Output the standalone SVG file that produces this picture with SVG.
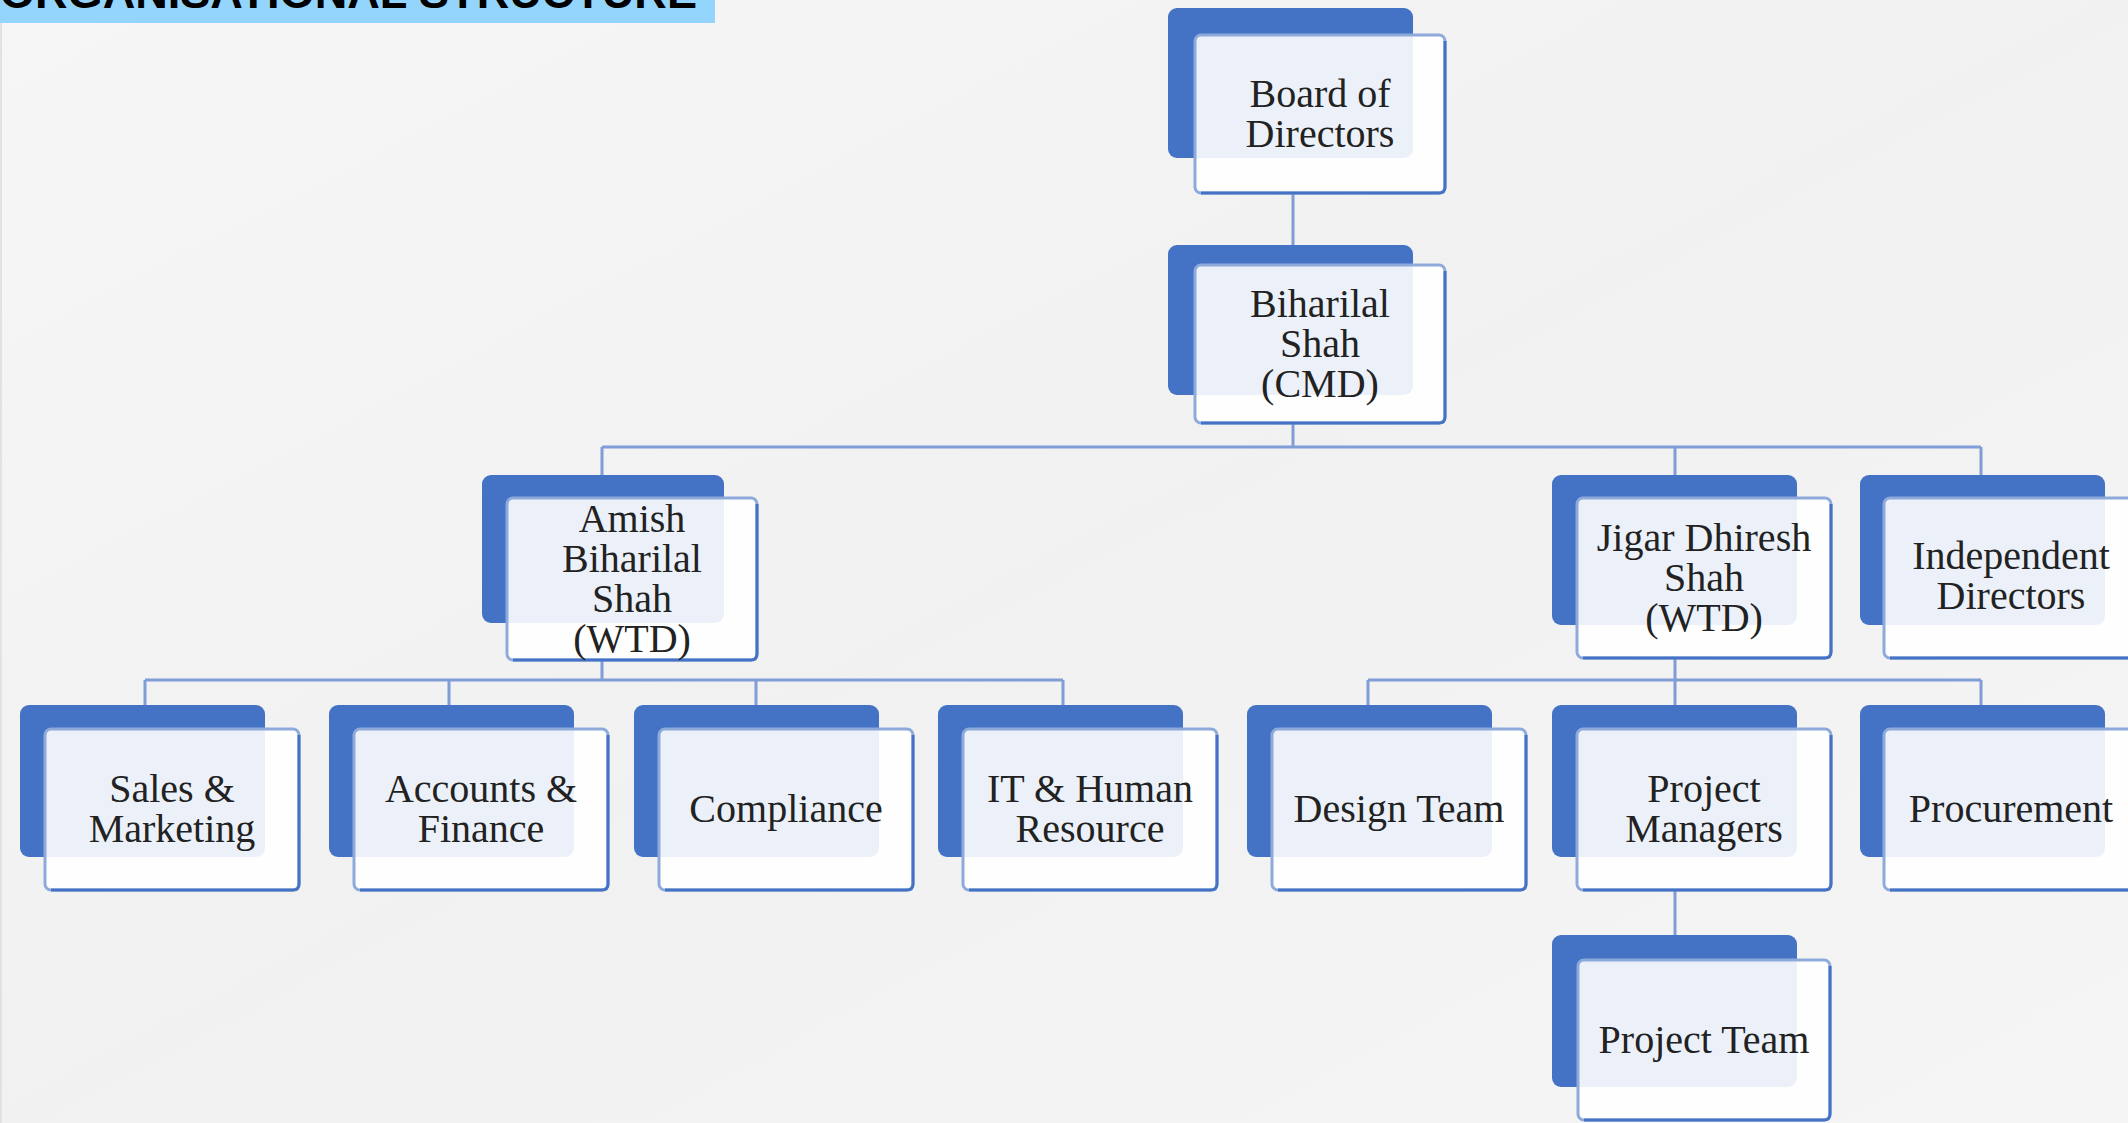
<svg xmlns="http://www.w3.org/2000/svg" width="2128" height="1123" viewBox="0 0 2128 1123">
<style>
.back{fill:#4472c4}
.front{fill:#ffffff;fill-opacity:0.9;stroke:#8eaadb;stroke-width:3}
.edge{fill:none;stroke:#4472c4;stroke-width:3}
.t{font-family:"Liberation Serif","Times New Roman",serif;font-size:40px;fill:#222222;text-anchor:middle}
.conn{fill:none;stroke:#7f9dd6;stroke-width:3}
.title{font-family:"Liberation Sans",Arial,sans-serif;font-weight:bold;font-size:45px;fill:#000000}
</style>
<defs>
<linearGradient id="bg" x1="0" y1="0" x2="1" y2="1">
<stop offset="0" stop-color="#f6f6f6"/>
<stop offset="0.5" stop-color="#f1f1f1"/>
<stop offset="1" stop-color="#f5f5f5"/>
</linearGradient>
</defs>
<rect x="0" y="0" width="2128" height="1123" fill="url(#bg)"/>
<rect x="0" y="23" width="2" height="1100" fill="#e2e2e2"/>
<g id="title">
<rect x="0" y="0" width="715" height="23" fill="#94d5fe"/>
<text class="title" x="0" y="8" textLength="697" lengthAdjust="spacingAndGlyphs">ORGANISATIONAL STRUCTURE</text>
</g>
<g id="connectors">
<path class="conn" d="M1293 193V245"/>
<path class="conn" d="M1293 423V447M602 447H1981M602 447V475M1675 447V475M1981 447V475"/>
<path class="conn" d="M602 660V680M145 680H1063M145 680V705M449 680V705M756 680V705M1063 680V705"/>
<path class="conn" d="M1675 658V680M1368 680H1981M1368 680V705M1675 680V705M1981 680V705"/>
<path class="conn" d="M1675 890V935"/>
</g>
<g id="board">
<rect class="back" x="1168" y="8" width="245" height="150" rx="9"/>
<rect class="front" x="1195" y="35" width="250" height="158" rx="6"/>
<path class="edge" d="M1445 41V187Q1445 193 1439 193H1201"/>
<text class="t" x="1320" y="107">Board of<tspan x="1320" dy="40">Directors</tspan></text>
</g>
<g id="cmd">
<rect class="back" x="1168" y="245" width="245" height="150" rx="9"/>
<rect class="front" x="1195" y="265" width="250" height="158" rx="6"/>
<path class="edge" d="M1445 271V417Q1445 423 1439 423H1201"/>
<text class="t" x="1320" y="317">Biharilal<tspan x="1320" dy="40">Shah</tspan><tspan x="1320" dy="40">(CMD)</tspan></text>
</g>
<g id="amish">
<rect class="back" x="482" y="475" width="242" height="148" rx="9"/>
<rect class="front" x="507" y="498" width="250" height="162" rx="6"/>
<path class="edge" d="M757 504V654Q757 660 751 660H513"/>
<text class="t" x="632" y="532">Amish<tspan x="632" dy="40">Biharilal</tspan><tspan x="632" dy="40">Shah</tspan><tspan x="632" dy="40">(WTD)</tspan></text>
</g>
<g id="jigar">
<rect class="back" x="1552" y="475" width="245" height="150" rx="9"/>
<rect class="front" x="1577" y="498" width="254" height="160" rx="6"/>
<path class="edge" d="M1831 504V652Q1831 658 1825 658H1583"/>
<text class="t" x="1704" y="551">Jigar Dhiresh<tspan x="1704" dy="40">Shah</tspan><tspan x="1704" dy="40">(WTD)</tspan></text>
</g>
<g id="independent">
<rect class="back" x="1860" y="475" width="245" height="150" rx="9"/>
<rect class="front" x="1884" y="498" width="254" height="160" rx="6"/>
<path class="edge" d="M2138 504V652Q2138 658 2132 658H1890"/>
<text class="t" x="2011" y="569">Independent<tspan x="2011" dy="40">Directors</tspan></text>
</g>
<g id="sales">
<rect class="back" x="20" y="705" width="245" height="152" rx="9"/>
<rect class="front" x="45" y="729" width="254" height="161" rx="6"/>
<path class="edge" d="M299 735V884Q299 890 293 890H51"/>
<text class="t" x="172" y="802">Sales &amp;<tspan x="172" dy="40">Marketing</tspan></text>
</g>
<g id="accounts">
<rect class="back" x="329" y="705" width="245" height="152" rx="9"/>
<rect class="front" x="354" y="729" width="254" height="161" rx="6"/>
<path class="edge" d="M608 735V884Q608 890 602 890H360"/>
<text class="t" x="481" y="802">Accounts &amp;<tspan x="481" dy="40">Finance</tspan></text>
</g>
<g id="compliance">
<rect class="back" x="634" y="705" width="245" height="152" rx="9"/>
<rect class="front" x="659" y="729" width="254" height="161" rx="6"/>
<path class="edge" d="M913 735V884Q913 890 907 890H665"/>
<text class="t" x="786" y="822">Compliance</text>
</g>
<g id="it-hr">
<rect class="back" x="938" y="705" width="245" height="152" rx="9"/>
<rect class="front" x="963" y="729" width="254" height="161" rx="6"/>
<path class="edge" d="M1217 735V884Q1217 890 1211 890H969"/>
<text class="t" x="1090" y="802">IT &amp; Human<tspan x="1090" dy="40">Resource</tspan></text>
</g>
<g id="design">
<rect class="back" x="1247" y="705" width="245" height="152" rx="9"/>
<rect class="front" x="1272" y="729" width="254" height="161" rx="6"/>
<path class="edge" d="M1526 735V884Q1526 890 1520 890H1278"/>
<text class="t" x="1399" y="822">Design Team</text>
</g>
<g id="project-managers">
<rect class="back" x="1552" y="705" width="245" height="152" rx="9"/>
<rect class="front" x="1577" y="729" width="254" height="161" rx="6"/>
<path class="edge" d="M1831 735V884Q1831 890 1825 890H1583"/>
<text class="t" x="1704" y="802">Project<tspan x="1704" dy="40">Managers</tspan></text>
</g>
<g id="procurement">
<rect class="back" x="1860" y="705" width="245" height="152" rx="9"/>
<rect class="front" x="1884" y="729" width="254" height="161" rx="6"/>
<path class="edge" d="M2138 735V884Q2138 890 2132 890H1890"/>
<text class="t" x="2011" y="822">Procurement</text>
</g>
<g id="project-team">
<rect class="back" x="1552" y="935" width="245" height="152" rx="9"/>
<rect class="front" x="1578" y="960" width="252" height="160" rx="6"/>
<path class="edge" d="M1830 966V1114Q1830 1120 1824 1120H1584"/>
<text class="t" x="1704" y="1053">Project Team</text>
</g>
</svg>
